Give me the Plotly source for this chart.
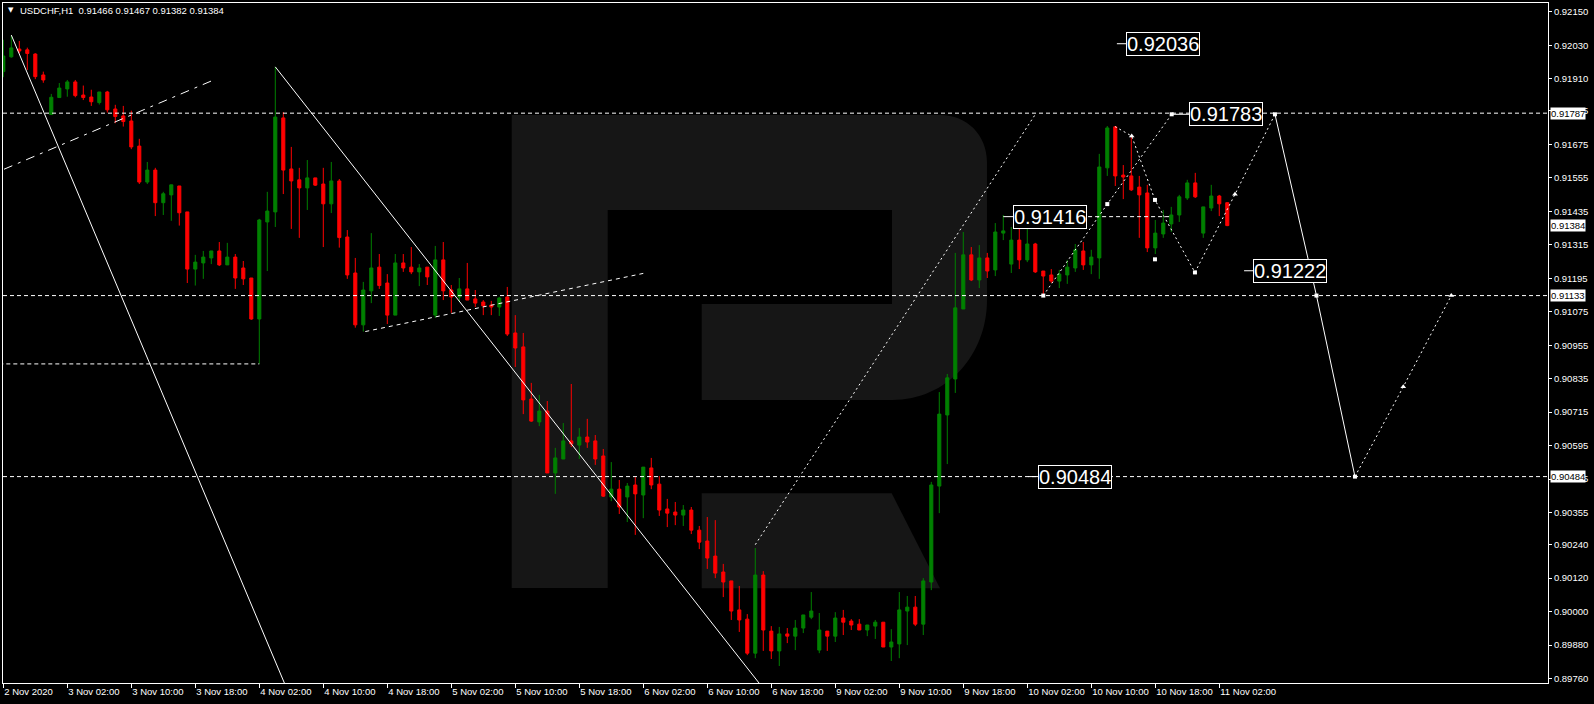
import plotly.graph_objects as go

# ---------------- data ----------------
instrument = "USDCHF,H1"
last_ohlc = ["0.91466", "0.91467", "0.91382", "0.91384"]

x_tick_labels = ["2 Nov 2020", "3 Nov 02:00", "3 Nov 10:00", "3 Nov 18:00", "4 Nov 02:00",
                 "4 Nov 10:00", "4 Nov 18:00", "5 Nov 02:00", "5 Nov 10:00", "5 Nov 18:00",
                 "6 Nov 02:00", "6 Nov 10:00", "6 Nov 18:00", "9 Nov 02:00", "9 Nov 10:00",
                 "9 Nov 18:00", "10 Nov 02:00", "10 Nov 10:00", "10 Nov 18:00", "11 Nov 02:00"]
bars_per_label = 8

opens = [0.91936, 0.91989, 0.92017, 0.92014, 0.91999, 0.91924, 0.91782, 0.91843, 0.91874, 0.91899,
         0.91852, 0.91845, 0.91825, 0.91863, 0.91802, 0.91777, 0.91759, 0.91669, 0.91540, 0.91583,
         0.91466, 0.91494, 0.91526, 0.91433, 0.91228, 0.91250, 0.91268, 0.91293, 0.91243, 0.91271,
         0.91232, 0.91196, 0.91049, 0.91397, 0.91433, 0.91770, 0.91587, 0.91548, 0.91519, 0.91555,
         0.91533, 0.91462, 0.91544, 0.91343, 0.91214, 0.91028, 0.91150, 0.91235, 0.91178, 0.91063,
         0.91250, 0.91235, 0.91218, 0.91235, 0.91063, 0.91261, 0.91153, 0.91128, 0.91157, 0.91121,
         0.91110, 0.91099, 0.91092, 0.91128, 0.90999, 0.90949, 0.90762, 0.90680, 0.90719, 0.90497,
         0.90547, 0.90612, 0.90597, 0.90626, 0.90612, 0.90558, 0.90411, 0.90439, 0.90411, 0.90454,
         0.90418, 0.90515, 0.90457, 0.90368, 0.90357, 0.90346, 0.90364, 0.90292, 0.90253, 0.90199,
         0.90142, 0.90110, 0.90006, 0.89973, 0.89851, 0.90131, 0.89930, 0.89859, 0.89920, 0.89912,
         0.89941, 0.89980, 0.89862, 0.89930, 0.89912, 0.89977, 0.89966, 0.89955, 0.89934, 0.89948,
         0.89962, 0.89873, 0.89884, 0.90002, 0.90016, 0.89955, 0.90106, 0.90450, 0.90705, 0.90834,
         0.91085, 0.91279, 0.91189, 0.91268, 0.91225, 0.91357, 0.91246, 0.91332, 0.91261, 0.91318,
         0.91221, 0.91207, 0.91185, 0.91207, 0.91232, 0.91293, 0.91243, 0.91268, 0.91591, 0.91738,
         0.91565, 0.91562, 0.91522, 0.91501, 0.91304, 0.91354, 0.91390, 0.91422, 0.91483, 0.91537,
         0.91357, 0.91447, 0.91490, 0.91466]
highs = [0.92050, 0.92065, 0.92046, 0.92022, 0.92002, 0.91936, 0.91856, 0.91895, 0.91906, 0.91906,
         0.91886, 0.91871, 0.91863, 0.91867, 0.91817, 0.91813, 0.91796, 0.91695, 0.91612, 0.91591,
         0.91505, 0.91530, 0.91526, 0.91433, 0.91279, 0.91293, 0.91293, 0.91325, 0.91322, 0.91282,
         0.91257, 0.91196, 0.91408, 0.91505, 0.91953, 0.91791, 0.91666, 0.91591, 0.91619, 0.91555,
         0.91591, 0.91612, 0.91551, 0.91368, 0.91268, 0.91182, 0.91357, 0.91282, 0.91210, 0.91282,
         0.91282, 0.91307, 0.91246, 0.91235, 0.91311, 0.91325, 0.91171, 0.91196, 0.91250, 0.91153,
         0.91117, 0.91114, 0.91128, 0.91164, 0.91063, 0.90999, 0.90820, 0.90777, 0.90755, 0.90587,
         0.90676, 0.90816, 0.90658, 0.90691, 0.90633, 0.90583, 0.90536, 0.90472, 0.90461, 0.90482,
         0.90518, 0.90551, 0.90486, 0.90404, 0.90393, 0.90382, 0.90375, 0.90307, 0.90339, 0.90328,
         0.90171, 0.90110, 0.90092, 0.89991, 0.90228, 0.90145, 0.89948, 0.89945, 0.89941, 0.89970,
         0.89988, 0.90070, 0.89995, 0.89930, 0.89998, 0.90006, 0.89973, 0.89973, 0.89952, 0.89970,
         0.89962, 0.89937, 0.90070, 0.90056, 0.90056, 0.90120, 0.90465, 0.90787, 0.90852, 0.91286,
         0.91361, 0.91307, 0.91314, 0.91286, 0.91393, 0.91422, 0.91379, 0.91372, 0.91372, 0.91322,
         0.91221, 0.91228, 0.91225, 0.91261, 0.91318, 0.91325, 0.91297, 0.91641, 0.91741, 0.91741,
         0.91601, 0.91702, 0.91562, 0.91530, 0.91404, 0.91440, 0.91451, 0.91494, 0.91548, 0.91573,
         0.91451, 0.91530, 0.91494, 0.91467]
lows = [0.91916, 0.91986, 0.92002, 0.91942, 0.91909, 0.91896, 0.91781, 0.91843, 0.91846, 0.91844,
        0.91834, 0.91813, 0.91818, 0.91789, 0.91751, 0.91739, 0.91658, 0.91533, 0.91533, 0.91418,
        0.91422, 0.91401, 0.91384, 0.91178, 0.91169, 0.91193, 0.91246, 0.91239, 0.91243, 0.91157,
        0.91171, 0.91046, 0.90888, 0.91221, 0.91379, 0.91497, 0.91372, 0.91340, 0.91440, 0.91526,
        0.91307, 0.91429, 0.91305, 0.91193, 0.91018, 0.91004, 0.91106, 0.91157, 0.91031, 0.91063,
        0.91218, 0.91210, 0.91167, 0.91171, 0.91053, 0.91117, 0.91071, 0.91110, 0.91117, 0.91092,
        0.91063, 0.91063, 0.91060, 0.90988, 0.90877, 0.90708, 0.90680, 0.90665, 0.90497, 0.90422,
        0.90547, 0.90590, 0.90547, 0.90587, 0.90526, 0.90411, 0.90396, 0.90350, 0.90321, 0.90275,
        0.90335, 0.90439, 0.90343, 0.90303, 0.90310, 0.90307, 0.90278, 0.90224, 0.90153, 0.90120,
        0.90052, 0.89970, 0.89927, 0.89844, 0.89833, 0.89859, 0.89830, 0.89805, 0.89887, 0.89862,
        0.89923, 0.89973, 0.89851, 0.89859, 0.89891, 0.89916, 0.89934, 0.89934, 0.89912, 0.89902,
        0.89873, 0.89823, 0.89833, 0.89880, 0.89948, 0.89916, 0.90077, 0.90353, 0.90529, 0.90784,
        0.91085, 0.91185, 0.91160, 0.91196, 0.91203, 0.91332, 0.91214, 0.91228, 0.91253, 0.91214,
        0.91133, 0.91178, 0.91160, 0.91175, 0.91218, 0.91225, 0.91210, 0.91193, 0.91562, 0.91526,
        0.91479, 0.91508, 0.91340, 0.91289, 0.91282, 0.91340, 0.91361, 0.91397, 0.91476, 0.91483,
        0.91340, 0.91436, 0.91418, 0.91382]
closes = [0.91992, 0.92021, 0.92010, 0.92001, 0.91918, 0.91906, 0.91844, 0.91877, 0.91899, 0.91850,
          0.91843, 0.91828, 0.91863, 0.91799, 0.91775, 0.91757, 0.91666, 0.91540, 0.91583, 0.91466,
          0.91498, 0.91530, 0.91430, 0.91228, 0.91253, 0.91271, 0.91293, 0.91243, 0.91271, 0.91196,
          0.91193, 0.91049, 0.91404, 0.91436, 0.91773, 0.91583, 0.91544, 0.91519, 0.91555, 0.91529,
          0.91462, 0.91544, 0.91341, 0.91207, 0.91028, 0.91153, 0.91232, 0.91169, 0.91063, 0.91250,
          0.91232, 0.91218, 0.91232, 0.91200, 0.91261, 0.91150, 0.91128, 0.91157, 0.91117, 0.91106,
          0.91096, 0.91092, 0.91124, 0.90995, 0.90945, 0.90759, 0.90683, 0.90719, 0.90497, 0.90551,
          0.90612, 0.90601, 0.90626, 0.90608, 0.90547, 0.90414, 0.90439, 0.90375, 0.90450, 0.90422,
          0.90518, 0.90454, 0.90364, 0.90353, 0.90346, 0.90364, 0.90292, 0.90249, 0.90192, 0.90138,
          0.90106, 0.90002, 0.89970, 0.89851, 0.90131, 0.89934, 0.89859, 0.89920, 0.89912, 0.89941,
          0.89988, 0.90002, 0.89934, 0.89912, 0.89977, 0.89962, 0.89952, 0.89934, 0.89952, 0.89962,
          0.89873, 0.89891, 0.90006, 0.90016, 0.89955, 0.90110, 0.90454, 0.90708, 0.90838, 0.91089,
          0.91279, 0.91189, 0.91268, 0.91221, 0.91361, 0.91365, 0.91332, 0.91261, 0.91318, 0.91218,
          0.91203, 0.91185, 0.91210, 0.91235, 0.91297, 0.91243, 0.91271, 0.91594, 0.91734, 0.91562,
          0.91558, 0.91512, 0.91494, 0.91304, 0.91357, 0.91393, 0.91422, 0.91487, 0.91537, 0.91487,
          0.91451, 0.91490, 0.91462, 0.91384]

y_tick_values = [0.92150, 0.92030, 0.91910, 0.91795, 0.91675, 0.91555, 0.91435, 0.91315, 0.91195,
                 0.91075, 0.90955, 0.90835, 0.90715, 0.90595, 0.90475, 0.90355, 0.90240, 0.90120,
                 0.90000, 0.89880, 0.89760]
y_tick_text = ["%.5f" % v for v in y_tick_values]

horizontal_levels = [0.91787, 0.91133, 0.90484]
axis_marks = [0.91787, 0.91384, 0.91133, 0.90484]

# trend lines: (bar index, price)
solid1_x, solid1_y = [1.0, 35.5], [0.92067, 0.89719]
solid2_x, solid2_y = [34.0, 95.15], [0.91953, 0.89719]
dashdot_x, dashdot_y = [0.09, 26.05], [0.91586, 0.91903]
dash_x, dash_y = [45.25, 80.08], [0.91004, 0.91213]
dot_x, dot_y = [94.0, 129.1], [0.90240, 0.91787]
low_x, low_y = [-0.5, 32.0], [0.90888, 0.90888]
lvl_x, lvl_y = [135.6, 146.1], [0.91416, 0.91416]

# forecast paths
fa_x, fa_y = [130.0, 138.0, 146.05], [0.91133, 0.91461, 0.91783]
fb_x, fb_y = [138.96, 141.05, 143.96, 148.96, 153.96, 158.96], [0.91739, 0.91705, 0.91476, 0.91216, 0.91496, 0.91783]
fc_x, fc_y = [158.96, 164.15, 168.96], [0.91783, 0.91133, 0.90484]
fd_x, fd_y = [168.96, 175.0, 181.0], [0.90484, 0.90806, 0.91133]
sq_x, sq_y = [130.0, 138.0, 146.05, 143.96, 148.96, 158.96, 164.15, 168.96, 143.96], \
             [0.91133, 0.91461, 0.91783, 0.91476, 0.91216, 0.91783, 0.91133, 0.90484, 0.91263]

# price labels: text, bar index of center, price, leader start index
label_text = ["0.92036", "0.91783", "0.91416", "0.91222", "0.90484"]
label_x = [144.96, 152.9, 130.9, 160.9, 133.96]
label_y = [0.92036, 0.91783, 0.91416, 0.91222, 0.90484]
leader_x0 = [139.2, 146.05, 125.0, 155.1, 128.1]
leader_x1 = [140.4, 148.3, 126.4, 156.4, 129.4]

# ---------------- figure ----------------
N = len(opens)
xs = list(range(N))

fig = go.Figure()

PL, PR, PT, PB = 3, 1548, 3, 683
def P(px, py):
    return "%.5f,%.5f" % ((px - PL) / (PR - PL), (PB - py) / (PB - PT))

logo_main = ("M " + P(511.7, 115) + " L " + P(940, 115) +
             " C " + P(967, 115) + " " + P(987, 135) + " " + P(987, 162) +
             " L " + P(987, 300) +
             " C " + P(987, 355) + " " + P(947, 400) + " " + P(892, 400) +
             " L " + P(701.7, 400) + " L " + P(701.7, 304) + " L " + P(892, 304) +
             " L " + P(892, 210) + " L " + P(607.7, 210) + " L " + P(607.7, 588) +
             " L " + P(511.7, 588) + " Z")
logo_leg = ("M " + P(701.7, 493.3) + " L " + P(891.7, 493.3) + " L " + P(940, 588.3) +
            " L " + P(701.7, 588.3) + " Z")
shapes = []
for pth in (logo_main, logo_leg):
    shapes.append(dict(type="path", path=pth, xref="paper", yref="paper",
                       fillcolor="rgb(22,22,22)", line=dict(width=0), layer="below"))

for lv in horizontal_levels:
    shapes.append(dict(type="line", xref="paper", yref="y", x0=0, x1=1, y0=lv, y1=lv,
                       line=dict(color="white", width=1, dash="4px,3px"), layer="above"))

fig.add_trace(go.Candlestick(
    x=xs, open=opens, high=highs, low=lows, close=closes,
    increasing=dict(line=dict(color="#008000", width=1), fillcolor="#008000"),
    decreasing=dict(line=dict(color="#ff0000", width=1), fillcolor="#ff0000"),
    whiskerwidth=0, showlegend=False, hoverinfo="skip"))

def line(x, y, dash="solid", width=1):
    fig.add_trace(go.Scatter(x=x, y=y, mode="lines", showlegend=False, hoverinfo="skip",
                             line=dict(color="white", width=width, dash=dash)))

line(solid1_x, solid1_y)
line(solid2_x, solid2_y)
line(dashdot_x, dashdot_y, "9px,6px,3px,6px")
line(dash_x, dash_y, "4px,4px")
line(dot_x, dot_y, "2px,3px")
line(low_x, low_y, "4px,3px")
line(lvl_x, lvl_y, "4px,3px")
line(fa_x, fa_y, "2px,3px")
line(fb_x, fb_y, "2px,3px")
line(fc_x, fc_y)
line(fd_x, fd_y, "2px,3px")
for a, b, yy in zip(leader_x0, leader_x1, label_y):
    line([a, b], [yy, yy])

fig.add_trace(go.Scatter(x=sq_x, y=sq_y, mode="markers", showlegend=False, hoverinfo="skip",
                         marker=dict(symbol="square", size=4, color="white")))
fig.add_trace(go.Scatter(x=[fb_x[1], fb_x[4], fd_x[1], fd_x[2]],
                         y=[fb_y[1], fb_y[4], fd_y[1], fd_y[2]],
                         mode="markers", showlegend=False, hoverinfo="skip",
                         marker=dict(symbol="triangle-up", size=5, color="white")))

annotations = []
for t, xx, yy in zip(label_text, label_x, label_y):
    annotations.append(dict(x=xx, y=yy, xref="x", yref="y", text=t, showarrow=False,
                            font=dict(family="Liberation Sans", size=20, color="white"),
                            bgcolor="black", bordercolor="white", borderwidth=1, borderpad=0))
for v in axis_marks:
    annotations.append(dict(x=1, y=v, xref="paper", yref="y", text="%.5f" % v, showarrow=False,
                            xanchor="left", xshift=2,
                            font=dict(family="Liberation Sans", size=9.5, color="black"),
                            bgcolor="white", borderpad=0))
annotations.append(dict(x=0, y=1, xref="paper", yref="paper", xanchor="left", yanchor="middle",
                        xshift=3, yshift=-7, showarrow=False, text="\u25BC",
                        font=dict(family="DejaVu Sans", size=7, color="white")))
annotations.append(dict(x=0, y=1, xref="paper", yref="paper", xanchor="left", yanchor="middle",
                        xshift=15, yshift=-7, showarrow=False,
                        text=instrument + "\u00a0\u00a0" + " ".join(last_ohlc),
                        font=dict(family="Liberation Sans", size=9.5, color="white")))

fig.update_layout(
    width=1594, height=704,
    margin=dict(l=PL, r=1594 - PR, t=PT, b=704 - PB, autoexpand=False),
    paper_bgcolor="black", plot_bgcolor="black",
    showlegend=False, hovermode=False, boxgap=0.45,
    shapes=shapes, annotations=annotations,
    xaxis=dict(range=[-0.0375, 193.09], showgrid=False, zeroline=False, automargin=False,
               rangeslider=dict(visible=False),
               tickvals=[i * bars_per_label for i in range(len(x_tick_labels))],
               ticktext=x_tick_labels, ticks="outside", ticklen=4, tickcolor="white",
               tickangle=0, ticklabelposition="outside right",
               tickfont=dict(family="Liberation Sans", size=9.5, color="white"),
               showline=True, linecolor="white", linewidth=1, mirror=True),
    yaxis=dict(range=[0.89744, 0.92182], side="right", showgrid=False, zeroline=False,
               automargin=False,
               tickvals=y_tick_values, ticktext=y_tick_text, ticks="outside", ticklen=3,
               tickcolor="white",
               tickfont=dict(family="Liberation Sans", size=9.5, color="white"),
               showline=True, linecolor="white", linewidth=1, mirror=True),
)

fig.write_html("out.html", config={"displayModeBar": False, "staticPlot": True},
               post_script="document.body.style.margin='0px';document.body.style.background='black';document.body.style.overflow='hidden';")
